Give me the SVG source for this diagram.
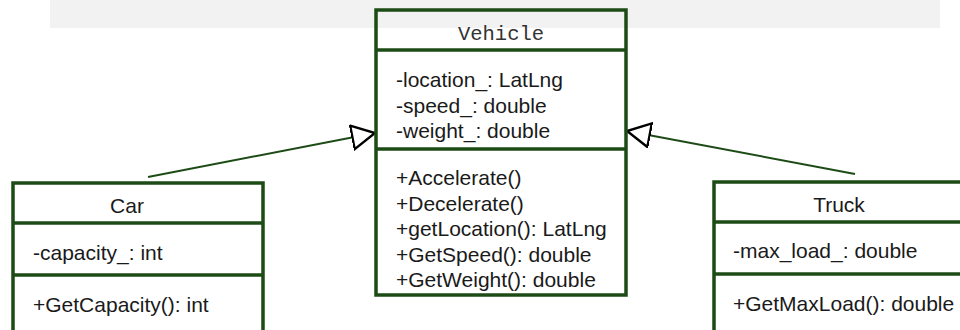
<svg xmlns="http://www.w3.org/2000/svg" width="960" height="330" viewBox="0 0 960 330">
<defs>
<style>
.box{fill:none;stroke:#1c4b15;stroke-width:3.5}
.sep{stroke:#1c4b15;stroke-width:3.5}
.t{font-family:"Liberation Sans",Arial,sans-serif;font-size:21px;fill:#1a1a1a}
.mono{font-family:"Liberation Mono","Courier New",monospace;font-size:20.5px;fill:#333}
.edge{stroke:#1c4b15;stroke-width:2;fill:none}
</style>
<marker id="tri" markerUnits="userSpaceOnUse" markerWidth="30" markerHeight="30" refX="24" refY="13" orient="auto">
<path d="M1,1 L24,13 L1,25 Z" fill="#fff" stroke="#000" stroke-width="2.4" stroke-linejoin="miter"/>
</marker>
</defs>
<rect x="50" y="0" width="890" height="28" fill="#f2f2f2"/>
<g id="connectors">
<line class="edge" x1="148" y1="177" x2="375" y2="133" marker-end="url(#tri)"/>
<line class="edge" x1="855" y1="174" x2="627" y2="131" marker-end="url(#tri)"/>
</g>
<g id="vehicle">
<rect class="box" x="376" y="10" width="250" height="285"/>
<line class="sep" x1="376" y1="50" x2="626" y2="50"/>
<line class="sep" x1="376" y1="149" x2="626" y2="149"/>
<text class="mono" x="501" y="40" text-anchor="middle">Vehicle</text>
<text class="t" x="396" y="87">-location_: LatLng</text>
<text class="t" x="396" y="113">-speed_: double</text>
<text class="t" x="396" y="138">-weight_: double</text>
<text class="t" x="396" y="185">+Accelerate()</text>
<text class="t" x="396" y="211">+Decelerate()</text>
<text class="t" x="396" y="236">+getLocation(): LatLng</text>
<text class="t" x="396" y="262">+GetSpeed(): double</text>
<text class="t" x="396" y="287">+GetWeight(): double</text>
</g>
<g id="car">
<rect class="box" x="13" y="183" width="250" height="160"/>
<line class="sep" x1="13" y1="223" x2="263" y2="223"/>
<line class="sep" x1="13" y1="275" x2="263" y2="275"/>
<text class="t" x="127" y="213" text-anchor="middle">Car</text>
<text class="t" x="33" y="260">-capacity_: int</text>
<text class="t" x="33" y="312">+GetCapacity(): int</text>
</g>
<g id="truck">
<rect class="box" x="714" y="182" width="250" height="160"/>
<line class="sep" x1="714" y1="222" x2="964" y2="222"/>
<line class="sep" x1="714" y1="274" x2="964" y2="274"/>
<text class="t" x="839" y="212" text-anchor="middle">Truck</text>
<text class="t" x="733" y="258">-max_load_: double</text>
<text class="t" x="733" y="311">+GetMaxLoad(): double</text>
</g>
</svg>
